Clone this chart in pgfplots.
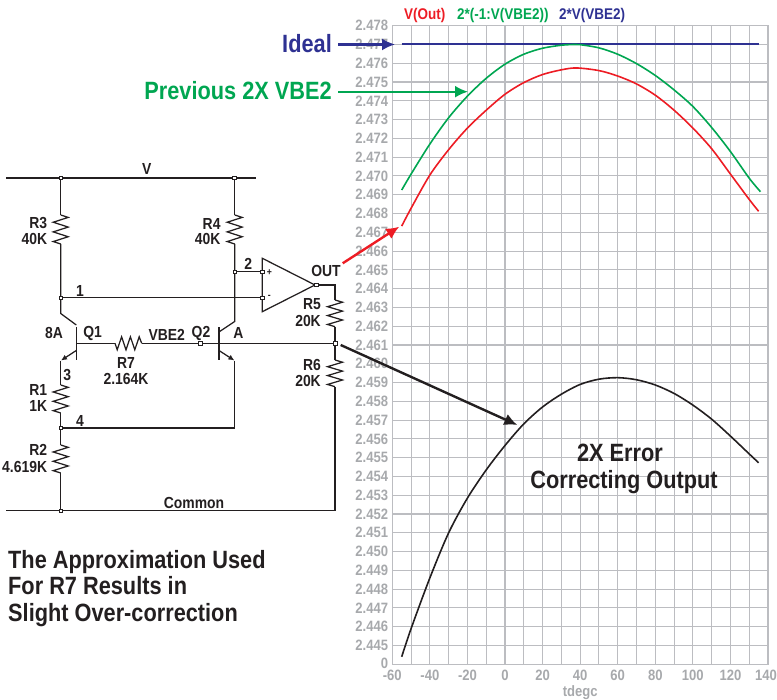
\documentclass[border=0pt]{standalone}
\usepackage{fontspec}
\setmainfont[FakeStretch=0.87]{Liberation Sans}
\usepackage{pgfplots}
\pgfplotsset{compat=1.18}
\usetikzlibrary{arrows.meta}
\definecolor{gridc}{HTML}{BCBDC1}
\definecolor{gridd}{HTML}{A7A9AC}
\definecolor{tickc}{HTML}{A7A9AC}
\definecolor{myblue}{HTML}{2E3192}
\definecolor{mygreen}{HTML}{00A651}
\definecolor{myred}{HTML}{ED1C24}
\definecolor{myblack}{HTML}{231F20}
\newcommand{\fs}[1]{\fontsize{#1}{#1}\selectfont\bfseries}
% vertical resistor: x, ytop, ybottom
\newcommand{\resv}[3]{%
  \pgfmathsetmacro{\st}{(#3-#2)/6}%
  \draw[wire] (#1,#2)--++(7.5,\st*0.5)--++(-15,\st)--++(15,\st)--++(-15,\st)--++(15,\st)--++(-15,\st)--(#1,#3);}
\newcommand{\nd}[2]{\draw[myblack,line width=0.6pt,fill=white] (#1-1.8,#2-1.8) rectangle (#1+1.8,#2+1.8);}
\begin{document}
\begin{tikzpicture}
\path[use as bounding box] (0,0) rectangle (777pt,700pt);
\begin{axis}[
  at={(392.3pt,35.7pt)},anchor=south west,scale only axis,
  width=375.7pt,height=638.6pt,
  xmin=-60,xmax=140,ymin=2.444,ymax=2.478,
  xtick={-60,-40,-20,0,20,40,60,80,100,120,140},
  xticklabels={-60,-40,-20,0,20,40,60,80,100,120,{140\hspace*{4pt}}},
  minor xtick={-50,-30,-10,10,30,50,70,90,110,130},
  ytick={2.444,2.445,2.446,2.447,2.448,2.449,2.450,2.451,2.452,2.453,2.454,2.455,2.456,2.457,2.458,2.459,2.460,2.461,2.462,2.463,2.464,2.465,2.466,2.467,2.468,2.469,2.470,2.471,2.472,2.473,2.474,2.475,2.476,2.477,2.478},
  yticklabels={\raisebox{1.5pt}{0},2.445,2.446,2.447,2.448,2.449,2.450,2.451,2.452,2.453,2.454,2.455,2.456,2.457,2.458,2.459,2.460,2.461,2.462,2.463,2.464,2.465,2.466,2.467,2.468,2.469,2.470,2.471,2.472,2.473,2.474,2.475,2.476,2.477,2.478},
  extra y ticks={2.461,2.469},
  extra y tick labels={},
  extra y tick style={grid style={gridd,line width=1.7pt},major tick length=0pt},
  grid=both,
  major grid style={gridc,line width=1.1pt},
  minor grid style={gridc,line width=1.1pt},
  major tick length=0pt,minor tick length=0pt,
  axis line style={gridc,line width=1.4pt},
  tick label style={font=\fs{15},text=tickc},
  yticklabel style={inner sep=0pt,xshift=-4pt},
  xticklabel style={inner sep=0pt,yshift=-5.5pt},
  xlabel={tdegc},
  xlabel style={font=\fs{15},text=tickc,inner sep=0pt,yshift=-5pt},
  clip=false,
  axis on top=false,
]
\addplot[myblue,line width=2pt] coordinates {(-55,2.4770)(135,2.4770)};
\addplot[mygreen,line width=1.6pt,smooth] coordinates {
(-55,2.46925)(-50,2.47010)(-40,2.47170)(-30,2.47310)(-20,2.47425)(-10,2.47520)(0,2.47595)(10,2.47648)(20,2.47680)(30,2.47696)(37,2.47700)(40,2.47699)(50,2.47682)(60,2.47648)(70,2.47598)(80,2.47535)(90,2.47458)(100,2.47370)(110,2.47258)(120,2.47130)(130,2.46988)(136,2.46916)};
\addplot[myred,line width=1.6pt,smooth] coordinates {
(-55,2.46733)(-50,2.46828)(-40,2.47005)(-30,2.47140)(-20,2.47255)(-10,2.47350)(0,2.47435)(10,2.47497)(20,2.47540)(30,2.47565)(38,2.47575)(50,2.47561)(60,2.47532)(70,2.47490)(80,2.47430)(90,2.47350)(100,2.47255)(110,2.47145)(120,2.47010)(130,2.46875)(135,2.46812)};
\addplot[myblack,line width=1.6pt,smooth] coordinates {
(-55,2.44440)(-50,2.44590)(-40,2.44860)(-30,2.45100)(-20,2.45285)(-10,2.45435)(0,2.45565)(10,2.45680)(20,2.45770)(30,2.45838)(40,2.45890)(50,2.45918)(60,2.45926)(70,2.45915)(80,2.45887)(90,2.45842)(100,2.45780)(110,2.45705)(120,2.45615)(130,2.45520)(135,2.45473)};
\end{axis}
\begin{scope}[x=1pt,y=-1pt,yshift=700pt,wire/.style={myblack,line width=1.25pt,line join=miter}]
% rails
\draw[myblack,line width=1.4pt] (6,178)--(256,178);
\draw[myblack,line width=1.4pt] (6,510.7)--(335,510.7);
\draw[wire] (335,510.7)--(335,386.7);
% left branch
\draw[wire] (60.7,178)--(60.7,215);
\resv{60.7}{215}{244}
\draw[wire] (60.7,244)--(60.7,313.5)--(76.3,325);
\draw[wire] (234.7,178)--(234.7,215);
\resv{234.7}{215}{244}
\draw[wire] (234.7,244)--(234.7,321.5)--(219,332);
\draw[wire] (60.7,297.7)--(262.3,297.7);
\draw[wire] (234.7,271.7)--(262.3,271.7);
% opamp
\draw[wire] (262.3,258.3)--(262.3,311.7)--(315,285)--cycle;
\draw[wire] (315,285)--(335,285)--(335,300);
\resv{335}{300}{326.7}
\draw[wire] (335,326.7)--(335,360);
\resv{335}{360}{386.7}
% transistors
\draw[myblack,line width=1.5pt] (76.3,327.3)--(76.3,360);
\draw[myblack,line width=1.5pt] (219,327.3)--(219,360);
\draw[wire] (76.3,343.3)--(115,343.3);
\draw[wire] (115,343.3)--++(2.2,6.5)--++(4.4,-13)--++(4.4,13)--++(4.4,-13)--++(4.4,13)--++(4.4,-13)--(141.7,343.3);
\draw[wire] (141.7,343.3)--(335,343.3);
\draw[wire,-{Latex[length=6pt,width=5.5pt]}] (76.3,350.5)--(61,360.5);
\draw[wire,-{Latex[length=6pt,width=5.5pt]}] (219,350.5)--(234.4,360.5);
\draw[wire] (60.7,360.7)--(60.7,385);
\resv{60.7}{385}{413}
\draw[wire] (60.7,413)--(60.7,445);
\resv{60.7}{445}{473}
\draw[wire] (60.7,473)--(60.7,510.7);
\draw[wire] (60.7,428)--(234.7,428)--(234.7,360.7);
% nodes
\nd{60.7}{178}\nd{234.5}{178}\nd{60.7}{297.7}\nd{234.7}{271.7}\nd{262.3}{271.7}\nd{262.3}{297.7}
\nd{316}{285}\nd{200}{343.3}\nd{335}{343.3}\nd{60.7}{428}\nd{60.7}{510.7}
% labels
\tikzset{lb/.style={inner sep=0pt,text=myblack,font=\fs{16}},lr/.style={lb,anchor=east}}
\node[lb] at (146.7,169.3) {V};
\node[lr] at (47.3,222.7) {R3};\node[lr] at (47.3,239.3) {40K};
\node[lr] at (220.7,224) {R4};\node[lr] at (220.7,239.3) {40K};
\node[lb] at (248.3,264) {2};
\node[lb] at (80,290.7) {1};
\node[lb,font=\fs{10}] at (269.3,272.7) {+};
\node[lb,font=\fs{10}] at (269.3,297) {-};
\node[lb] at (326,270.7) {OUT};
\node[lr] at (321,304.3) {R5};\node[lr] at (321,320.7) {20K};
\node[lr] at (321,365) {R6};\node[lr] at (321,381) {20K};
\node[lb] at (54,333.3) {8A};
\node[lb] at (92.7,333.3) {Q1};
\node[lb] at (166.7,335) {VBE2};
\node[lb] at (201,333.3) {Q2};
\node[lb] at (238.3,333.3) {A};
\node[lb] at (126,363.3) {R7};\node[lb] at (126,379.3) {2.164K};
\node[lb] at (67.3,375) {3};
\node[lr] at (47.3,390) {R1};\node[lr] at (47.3,406) {1K};
\node[lb] at (80,420.7) {4};
\node[lr] at (47.3,450) {R2};\node[lr] at (47.3,466.7) {4.619K};
\node[lb] at (194,503.3) {Common};
% big text
\tikzset{big/.style={inner sep=0pt,font=\fs{25},anchor=base west,text=myblack}}
\node[big] at (8,568.3) {The Approximation Used};
\node[big] at (8,595) {For R7 Results in};
\node[big] at (8,621.7) {Slight Over-correction};
\node[big,anchor=base] at (620,461.7) {2X Error};
\node[big,anchor=base] at (624,489) {Correcting Output};
\node[big,anchor=east,text=myblue] at (332,44) {Ideal};
\node[big,anchor=east,text=mygreen] at (332,91) {Previous 2X VBE2};
% legend
\tikzset{lg/.style={inner sep=0pt,font=\fs{15.5},anchor=base west}}
\node[lg,text=myred] at (404,20) {V(Out)};
\node[lg,text=mygreen] at (457,20) {2*(-1:V(VBE2))};
\node[lg,text=myblue] at (559,20) {2*V(VBE2)};
% arrows
\draw[myblue,line width=2.2pt,-{Latex[length=13pt,width=12pt]}] (338,44.5)--(395,44.5);
\draw[mygreen,line width=2.2pt,-{Latex[length=13pt,width=12pt]}] (338,91.7)--(468,91.7);
\draw[myred,line width=2.4pt,-{Latex[length=13pt,width=12pt]}] (342.7,263.3)--(399.3,226.7);
\draw[myblack,line width=2.4pt,-{Latex[length=13pt,width=12pt]}] (340.7,345)--(517.3,425);
\end{scope}
\end{tikzpicture}
\end{document}
